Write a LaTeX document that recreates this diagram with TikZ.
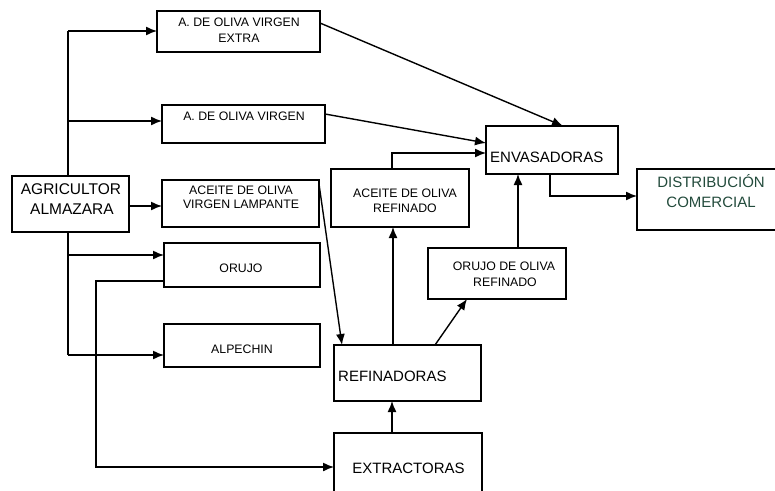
\documentclass[tikz,border=0pt]{standalone}
\usepackage{fontspec}
\setmainfont{Liberation Sans}
\usetikzlibrary{arrows.meta}
\definecolor{distgreen}{RGB}{35,75,60}
\begin{document}
\begin{tikzpicture}[x=1pt,y=-1pt,
  box/.style={draw,line width=1.4pt,inner sep=0pt,outer sep=0pt,rectangle},
  arr/.style={line width=1.4pt,-{Latex[length=11pt,width=9pt]}},
  ln/.style={line width=1.4pt},
  small/.style={inner sep=0pt,anchor=base,font=\fontsize{12.3}{14}\selectfont},
  big/.style={inner sep=0pt,anchor=base,font=\fontsize{15}{18}\selectfont}]
\clip (0,0) rectangle (775,490);
\fill[white] (0,0) rectangle (775,490);
% boxes
\node[box,minimum width=117pt,minimum height=56pt] (agri) at (70.5,204) {};
\node[box,minimum width=163pt,minimum height=41pt] (extra) at (238.5,31.5) {};
\node[box,minimum width=163pt,minimum height=38pt] (virgen) at (243.5,124) {};
\node[box,minimum width=157pt,minimum height=47pt] (lamp) at (240.5,203.5) {};
\node[box,minimum width=156pt,minimum height=44pt] (orujo) at (242,265) {};
\node[box,minimum width=156pt,minimum height=43pt] (alpe) at (242,345.5) {};
\node[box,minimum width=147pt,minimum height=56pt] (refin) at (407.5,373) {};
\node[box,minimum width=148pt,minimum height=68pt] (extr) at (408,467) {};
\node[box,minimum width=138pt,minimum height=58pt] (aref) at (400,198) {};
\node[box,minimum width=132pt,minimum height=48pt] (env) at (552,150) {};
\node[box,minimum width=148pt,minimum height=61pt] (dist) at (711,199.5) {};
\node[box,minimum width=138pt,minimum height=51pt] (orref) at (497,273.5) {};
% texts
\node[big,font=\fontsize{15.5}{18}\selectfont] (agri1) at (71,194.5) {AGRICULTOR};
\node[big,font=\fontsize{15.5}{18}\selectfont] (agri2) at (72,214.5) {ALMAZARA};
\node[small] (extra1) at (239,26.3) {A. DE OLIVA VIRGEN};
\node[small] (extra2) at (239,42.3) {EXTRA};
\node[small] (virgen1) at (244,120.3) {A. DE OLIVA VIRGEN};
\node[small] (lamp1) at (241,194.3) {ACEITE DE OLIVA};
\node[small] (lamp2) at (241,208.3) {VIRGEN LAMPANTE};
\node[small] (orujo1) at (241,272.3) {ORUJO};
\node[small] (alpe1) at (242,353.3) {ALPECHIN};
\node[small] (aref1) at (405,197.3) {ACEITE DE OLIVA};
\node[small] (aref2) at (405,212.3) {REFINADO};
\node[small] (orref1) at (504,270.3) {ORUJO DE OLIVA};
\node[small] (orref2) at (505,286.3) {REFINADO};
\node[big,anchor=base west] (env1) at (490,162.4) {ENVASADORAS};
\node[big,anchor=base west] (refin1) at (338,381.4) {REFINADORAS};
\node[big] (extr1) at (408.5,473.4) {EXTRACTORAS};
\node[big,text=distgreen] (dist1) at (711,187.4) {DISTRIBUCIÓN};
\node[big,text=distgreen] (dist2) at (711,207.4) {COMERCIAL};
% trunk
\coordinate (t0) at (68,31);
\coordinate (b2) at (68,121);
\coordinate (b4) at (68,255);
\coordinate (t1) at (68,355);
\draw[ln] (t0) -- (t0 |- agri.north);
\draw[ln] (t0 |- agri.south) -- (t1);
\draw[arr] (t0) -- (t0 -| extra.west);
\draw[arr] (b2) -- (b2 -| virgen.west);
\draw[arr] ([yshift=-2pt]agri.east) -- ([yshift=-2pt]agri.east -| lamp.west);
\draw[arr] (b4) -- (b4 -| orujo.west);
\draw[arr] (t1) -- (t1 -| alpe.west);
% orujo to extractoras
\coordinate (ex1) at (96,467);
\draw[arr] ([yshift=-16pt]orujo.west) -| (ex1) -- (extr.west);
% to envasadoras
\draw[arr] ([yshift=8.5pt]extra.east) -- ([xshift=11pt]env.north);
\draw[arr] ([yshift=10pt]virgen.east) -- ([yshift=7pt]env.west);
\draw[arr] ([xshift=-8pt]aref.north) |- ([yshift=-3pt]env.west);
% lampante to refinadoras
\draw[arr] ([yshift=-4pt]lamp.north east) -- ([xshift=8pt]refin.north west);
% refinadoras up
\coordinate (ra) at ([xshift=-7pt]aref.south);
\draw[arr] (ra |- refin.north) -- (ra);
\draw[arr] ([xshift=27.5pt]refin.north) -- ([xshift=-30pt]orref.south);
\coordinate (oe) at ([xshift=21pt]orref.north);
\draw[arr] (oe) -- (oe |- env.south);
\draw[arr] ([xshift=-2pt]env.south) |- ([yshift=3.5pt]dist.west);
\coordinate (er) at ([xshift=-16pt]extr.north);
\draw[arr] (er) -- (er |- refin.south);
\end{tikzpicture}
\end{document}
